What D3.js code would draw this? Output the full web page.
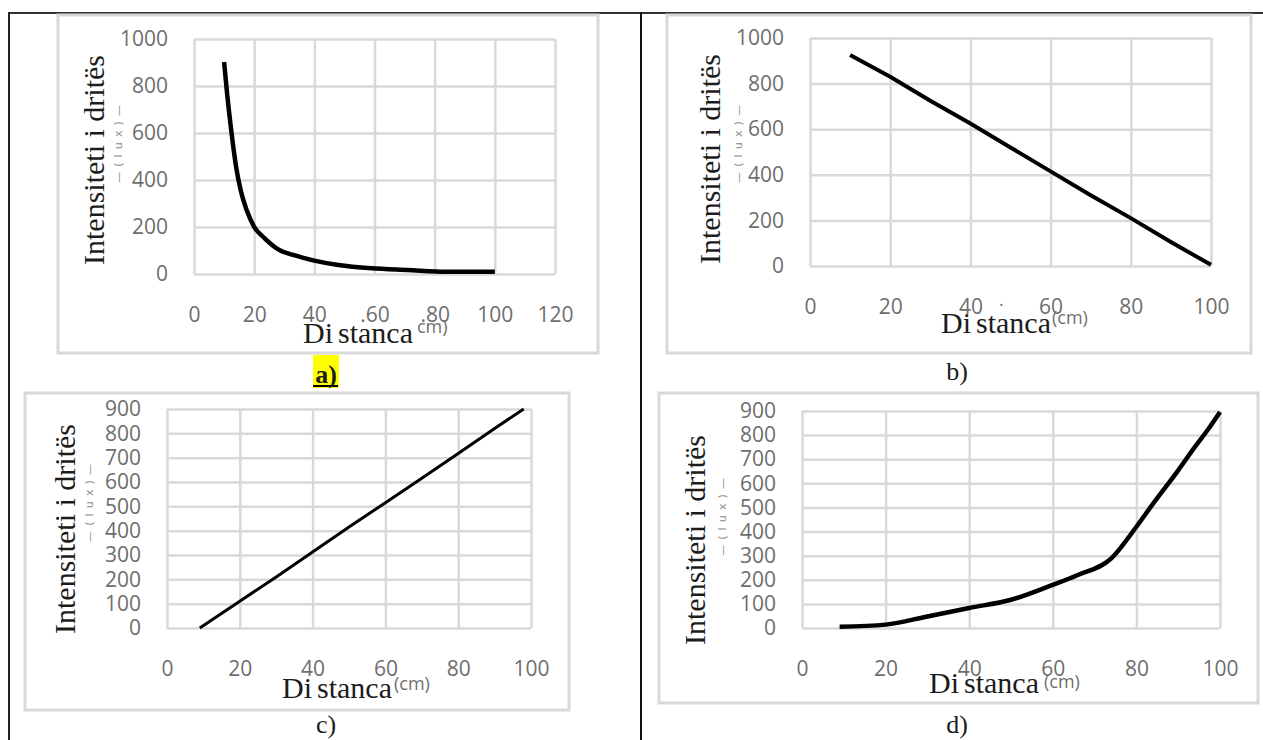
<!DOCTYPE html>
<meta charset="utf-8">
<style>
body { margin: 0; background: #fff; }
svg { display: block; }
.grid line { stroke: #d9d9d9; stroke-width: 2.5; }
.labels .tick text { font-family: "Open Sans", sans-serif; font-size: 21px; fill: #6e6e6e; }
.serif { font-family: "Liberation Serif", "Times New Roman", serif; fill: #1c1c1c; }
.unit { font-family: "Open Sans", sans-serif; font-size: 18px; fill: #707070; }
.garble { font-family: "DejaVu Sans", sans-serif; font-size: 11px; fill: #8a8a8a; }
.frame { fill: #fff; stroke: #d9d9d9; stroke-width: 3; }
</style>
<svg width="1263" height="740"></svg>
<script src="https://d3js.org/d3.v7.min.js"></script>
<script>

// a) intensity falls off with distance (curve)
var aDist = [10, 11, 12.5, 14, 15.5, 17.5, 20, 23.5, 28, 33, 40, 48, 59, 71, 84, 100],
    aInt  = [902, 768, 598, 456, 357, 272, 201, 152, 105, 81, 57, 38, 24, 17, 10, 10];

// b) straight line down
var bDist = [10, 20, 30, 40, 50, 60, 70, 80, 90, 100],
    bInt  = [925, 830, 725, 625, 520, 415, 310, 210, 105, 5];

// c) straight line up
var cDist = [9, 20, 30, 40, 50, 60, 70, 80, 90, 98],
    cInt  = [0, 110, 210, 312, 415, 515, 615, 717, 820, 900];

// d) rising curve
var dDist = [9, 20, 30, 40, 50, 60, 66, 74, 80, 84, 90, 94, 97, 100],
    dInt  = [5, 14, 48, 83, 117, 179, 220, 289, 420, 516, 654, 751, 820, 896];

var xTicksA = [0, 20, 40, 60, 80, 100, 120],
    xLabelsA = ["0", "20", "40", ".60", ".80", "100", "120"],
    xTicks = [0, 20, 40, 60, 80, 100],
    yTicks1000 = [0, 200, 400, 600, 800, 1000],
    yTicks900 = [0, 100, 200, 300, 400, 500, 600, 700, 800, 900];

var yTitle = "Intensiteti i dritës",
    xTitle = ["Di", "stanca"];

var svg = d3.select("svg");

// table borders
svg.append("line").attr("x1", 8).attr("x2", 1263).attr("y1", 13).attr("y2", 13)
    .attr("stroke", "#333").attr("stroke-width", 2);
svg.append("line").attr("x1", 9).attr("x2", 9).attr("y1", 12).attr("y2", 740)
    .attr("stroke", "#222").attr("stroke-width", 2);
svg.append("line").attr("x1", 641).attr("x2", 641).attr("y1", 12).attr("y2", 740)
    .attr("stroke", "#111").attr("stroke-width", 2);

var charts = [
  {dist: aDist, val: aInt, frame: [58, 15, 598, 353], plot: [194, 39, 555, 274],
   xMax: 120, yMax: 1000, xt: xTicksA, xl: xLabelsA, yt: yTicks1000, lw: 4.5, curve: d3.curveMonotoneX,
   title: [104, 160], garble: [122, 144], xtitle: [303, 343], unit: [417, 333, "cm)"],
   tag: [326, 383, "a)", true]},
  {dist: bDist, val: bInt, frame: [667, 15, 1251, 353], plot: [810, 38, 1211, 266],
   xMax: 100, yMax: 1000, xt: xTicks, yt: yTicks1000, lw: 4, curve: d3.curveLinear,
   title: [720, 159], garble: [742, 144], xtitle: [941, 333], unit: [1052, 324, "(cm)"],
   tag: [957, 380, "b)", false]},
  {dist: cDist, val: cInt, frame: [25, 393, 569, 710], plot: [167, 409, 531, 628],
   xMax: 100, yMax: 900, xt: xTicks, yt: yTicks900, lw: 3, curve: d3.curveLinear,
   title: [75, 529], garble: [93, 503], xtitle: [282, 698], unit: [394, 690, "(cm)"],
   tag: [326, 733, "c)", false]},
  {dist: dDist, val: dInt, frame: [659, 393, 1258, 703], plot: [802, 411, 1220, 628],
   xMax: 100, yMax: 900, xt: xTicks, yt: yTicks900, lw: 4.5, curve: d3.curveMonotoneX,
   title: [705, 540], garble: [726, 517], xtitle: [929, 693], unit: [1044, 688, "(cm)"],
   tag: [957, 733, "d)", false]}
];

charts.forEach(function(c) {
  var f = c.frame, p = c.plot,
      w = p[2] - p[0], h = p[3] - p[1];

  svg.append("rect").attr("class", "frame")
      .attr("x", f[0]).attr("y", f[1])
      .attr("width", f[2] - f[0]).attr("height", f[3] - f[1]);

  var x = d3.scaleLinear().domain([0, c.xMax]).range([0, w]),
      y = d3.scaleLinear().domain([0, c.yMax]).range([h, 0]);

  var g = svg.append("g").attr("transform", "translate(" + p[0] + "," + p[1] + ")");

  // gridlines (no text)
  g.append("g").attr("class", "grid")
      .call(d3.axisLeft(y).tickValues(c.yt).tickSize(-w).tickFormat(""))
      .call(function(s) { s.select(".domain").remove(); s.selectAll("text").remove(); });
  g.append("g").attr("class", "grid")
      .attr("transform", "translate(0," + h + ")")
      .call(d3.axisBottom(x).tickValues(c.xt).tickSize(-h).tickFormat(""))
      .call(function(s) { s.select(".domain").remove(); s.selectAll("text").remove(); });

  // tick labels
  g.append("g").attr("class", "labels")
      .call(d3.axisLeft(y).tickValues(c.yt).tickSize(0).tickPadding(26).tickFormat(d3.format("d")))
      .call(function(s) { s.select(".domain").remove(); });
  g.append("g").attr("class", "labels")
      .attr("transform", "translate(0," + h + ")")
      .call(d3.axisBottom(x).tickValues(c.xt).tickSize(0).tickPadding(33)
        .tickFormat(function(d, i) { return c.xl ? c.xl[i] : d; }))
      .call(function(s) { s.select(".domain").remove(); });

  // the series
  var pts = c.dist.map(function(d, i) { return [d, c.val[i]]; });
  g.append("path")
      .datum(pts)
      .attr("fill", "none")
      .attr("stroke", "#000")
      .attr("stroke-width", c.lw)
      .attr("stroke-linejoin", "round")
      .attr("d", d3.line()
        .x(function(d) { return x(d[0]); })
        .y(function(d) { return y(d[1]); })
        .curve(c.curve));

  // y title
  svg.append("text").attr("class", "serif")
      .attr("transform", "translate(" + c.title[0] + "," + c.title[1] + ") rotate(-90)")
      .attr("text-anchor", "middle")
      .attr("font-size", 30)
      .text(yTitle);

  svg.append("text").attr("class", "garble")
      .attr("transform", "translate(" + c.garble[0] + "," + c.garble[1] + ") rotate(-90)")
      .attr("text-anchor", "middle")
      .attr("textLength", 78)
      .attr("lengthAdjust", "spacing")
      .text("—(lux)—");

  // x title
  var xt = svg.append("text").attr("class", "serif")
      .attr("x", c.xtitle[0]).attr("y", c.xtitle[1])
      .attr("font-size", 30);
  xt.append("tspan").text(xTitle[0]);
  xt.append("tspan").attr("dx", 5).text(xTitle[1]);

  svg.append("text").attr("class", "unit")
      .attr("x", c.unit[0]).attr("y", c.unit[1])
      .text(c.unit[2]);

  // panel tag
  if (c.tag[3]) {
    svg.append("rect").attr("x", c.tag[0] - 13).attr("y", c.tag[1] - 28)
        .attr("width", 26).attr("height", 33).attr("fill", "#ffff00");
    svg.append("line").attr("x1", c.tag[0] - 13).attr("x2", c.tag[0] + 12)
        .attr("y1", c.tag[1] + 3).attr("y2", c.tag[1] + 3)
        .attr("stroke", "#000").attr("stroke-width", 2);
  }
  svg.append("text").attr("class", "serif")
      .attr("x", c.tag[0]).attr("y", c.tag[1])
      .attr("text-anchor", "middle")
      .attr("font-size", 26)
      .attr("font-weight", c.tag[3] ? "bold" : "normal")
      .text(c.tag[2]);
});

// stray dot between chart b's x labels
svg.append("text").attr("class", "unit").attr("x", 999).attr("y", 306).text(".");

</script>
